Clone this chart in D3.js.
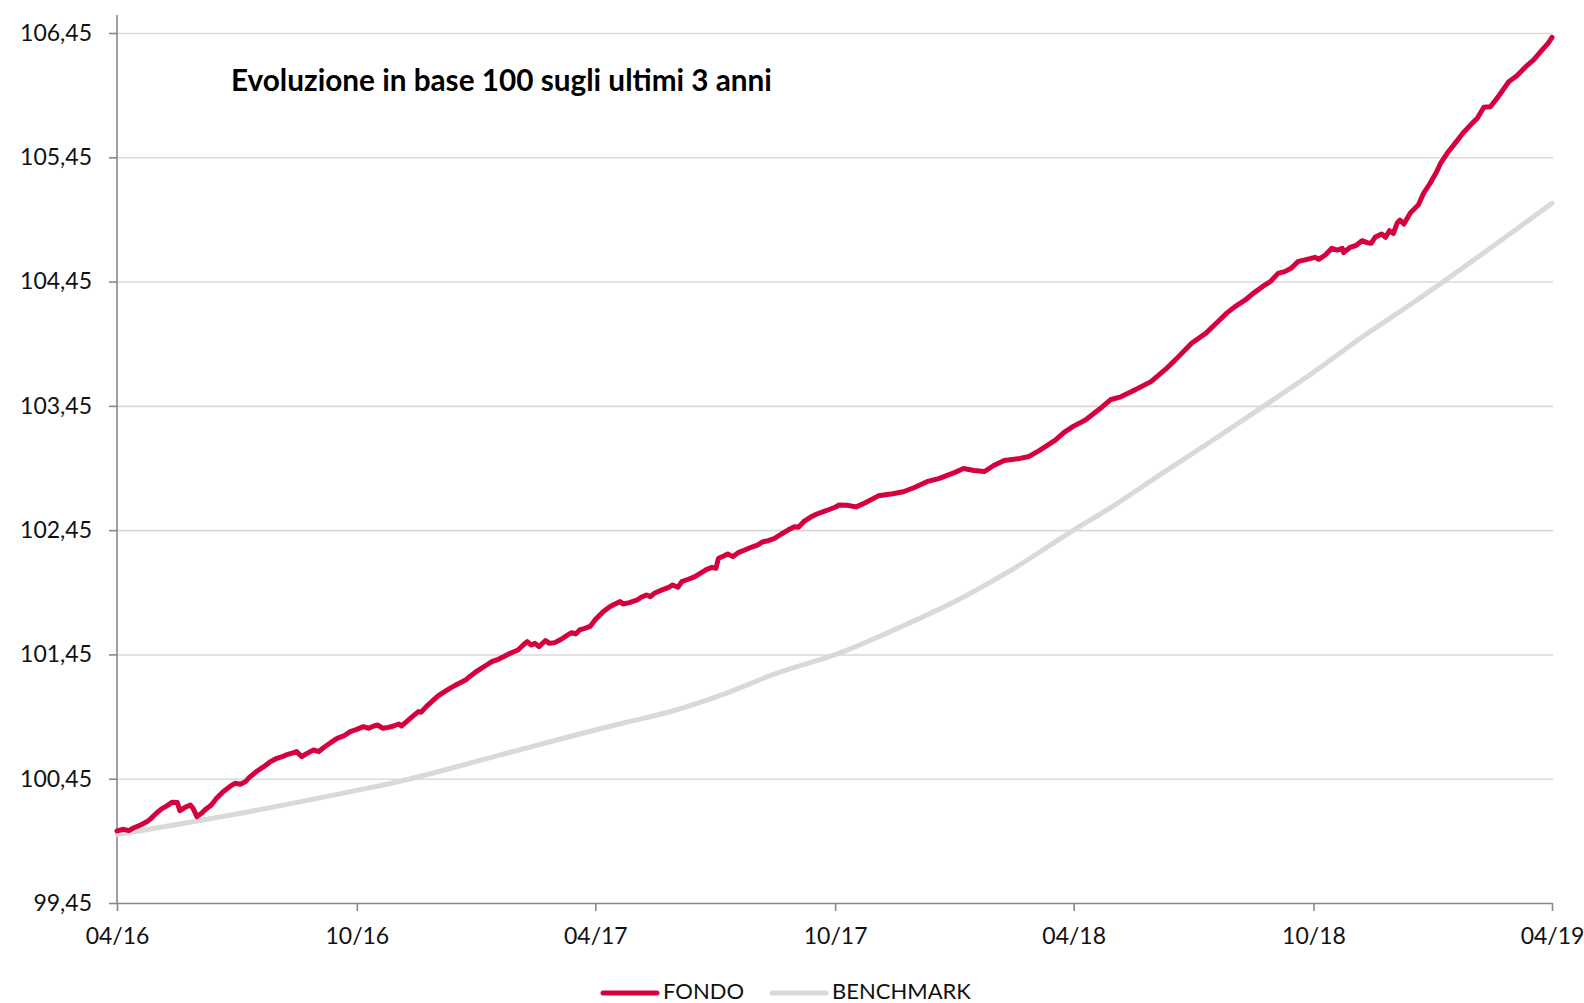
<!DOCTYPE html>
<html><head><meta charset="utf-8">
<script src="https://cdn.jsdelivr.net/npm/d3@7"></script>
<style>
body{margin:0;background:#fff;}
svg{display:block;font-family:Lato,"Open Sans",sans-serif;}
</style>
</head><body>
<svg id="c" width="1584" height="1003"></svg>
<script>
const titleText = "Evoluzione in base 100 sugli ultimi 3 anni";
const seriesNames = ["FONDO", "BENCHMARK"];
const yTicks = [99.45, 100.45, 101.45, 102.45, 103.45, 104.45, 105.45, 106.45];
const xTickDates = ["2016-04-01","2016-10-01","2017-04-01","2017-10-01","2018-04-01","2018-10-01","2019-04-01"];
const xTickLabels = ["04/16","10/16","04/17","10/17","04/18","10/18","04/19"];

const fondo = [
["2016-04-01",100.03],["2016-04-06",100.043],["2016-04-10",100.032],["2016-04-13",100.051],
["2016-04-19",100.078],["2016-04-24",100.105],["2016-04-27",100.131],["2016-05-01",100.172],
["2016-05-05",100.207],["2016-05-09",100.231],["2016-05-13",100.260],["2016-05-17",100.258],
["2016-05-19",100.193],["2016-05-23",100.220],["2016-05-27",100.239],["2016-05-29",100.212],
["2016-06-01",100.145],["2016-06-05",100.177],["2016-06-08",100.207],["2016-06-12",100.239],
["2016-06-16",100.293],["2016-06-21",100.346],["2016-06-26",100.386],["2016-06-30",100.413],
["2016-07-04",100.405],["2016-07-08",100.426],["2016-07-11",100.461],["2016-07-17",100.512],
["2016-07-22",100.547],["2016-07-27",100.587],["2016-08-01",100.614],["2016-08-05",100.627],
["2016-08-08",100.641],["2016-08-14",100.660],["2016-08-16",100.668],["2016-08-20",100.627],
["2016-08-24",100.654],["2016-08-29",100.681],["2016-09-02",100.668],["2016-09-05",100.695],
["2016-09-11",100.740],["2016-09-16",100.775],["2016-09-21",100.794],["2016-09-26",100.829],
["2016-10-01",100.847],["2016-10-06",100.869],["2016-10-10",100.856],["2016-10-14",100.874],
["2016-10-17",100.882],["2016-10-21",100.856],["2016-10-25",100.863],["2016-10-29",100.874],
["2016-11-02",100.890],["2016-11-04",100.874],["2016-11-08",100.909],["2016-11-13",100.955],
["2016-11-17",100.990],["2016-11-19",100.985],["2016-11-23",101.030],["2016-11-28",101.078],
["2016-12-02",101.116],["2016-12-07",101.150],["2016-12-12",101.183],["2016-12-17",101.212],
["2016-12-23",101.244],["2016-12-26",101.271],["2016-12-30",101.303],["2017-01-04",101.338],
["2017-01-08",101.365],["2017-01-12",101.392],["2017-01-17",101.411],["2017-01-22",101.438],
["2017-01-27",101.464],["2017-02-01",101.486],["2017-02-05",101.526],["2017-02-08",101.553],
["2017-02-11",101.526],["2017-02-14",101.539],["2017-02-17",101.513],["2017-02-22",101.561],
["2017-02-25",101.539],["2017-03-01",101.545],["2017-03-06",101.572],["2017-03-11",101.607],
["2017-03-14",101.625],["2017-03-17",101.615],["2017-03-20",101.647],["2017-03-24",101.660],
["2017-03-28",101.675],["2017-04-01",101.730],["2017-04-07",101.794],["2017-04-12",101.834],
["2017-04-16",101.856],["2017-04-20",101.875],["2017-04-22",101.856],["2017-04-27",101.867],
["2017-05-03",101.888],["2017-05-06",101.910],["2017-05-10",101.928],["2017-05-13",101.915],
["2017-05-16",101.942],["2017-05-22",101.969],["2017-05-27",101.990],["2017-05-30",102.009],
["2017-06-03",101.990],["2017-06-06",102.036],["2017-06-11",102.055],["2017-06-16",102.076],
["2017-06-20",102.103],["2017-06-25",102.135],["2017-06-29",102.151],["2017-07-02",102.143],
["2017-07-04",102.224],["2017-07-08",102.242],["2017-07-11",102.258],["2017-07-15",102.237],
["2017-07-19",102.269],["2017-07-24",102.290],["2017-07-29",102.312],["2017-08-03",102.331],
["2017-08-07",102.357],["2017-08-11",102.365],["2017-08-16",102.385],["2017-08-21",102.419],
["2017-08-26",102.451],["2017-08-31",102.478],["2017-09-03",102.473],["2017-09-07",102.518],
["2017-09-12",102.553],["2017-09-17",102.580],["2017-09-22",102.599],["2017-09-27",102.618],
["2017-10-01",102.634],["2017-10-04",102.652],["2017-10-10",102.650],["2017-10-17",102.637],
["2017-10-24",102.670],["2017-11-03",102.726],["2017-11-14",102.743],["2017-11-22",102.759],
["2017-11-30",102.791],["2017-12-10",102.840],["2017-12-19",102.865],["2017-12-31",102.913],
["2018-01-07",102.946],["2018-01-15",102.930],["2018-01-23",102.922],["2018-01-30",102.970],
["2018-02-07",103.011],["2018-02-19",103.027],["2018-02-26",103.043],["2018-03-06",103.092],
["2018-03-18",103.174],["2018-03-25",103.239],["2018-04-01",103.287],["2018-04-10",103.336],
["2018-04-21",103.426],["2018-04-29",103.499],["2018-05-07",103.523],["2018-05-18",103.580],
["2018-05-30",103.645],["2018-06-10",103.743],["2018-06-18",103.824],["2018-06-30",103.954],
["2018-07-11",104.035],["2018-07-19",104.117],["2018-07-27",104.198],["2018-08-03",104.255],
["2018-08-10",104.302],["2018-08-16",104.355],["2018-08-23",104.409],["2018-08-29",104.449],
["2018-09-04",104.516],["2018-09-09",104.530],["2018-09-14",104.557],["2018-09-19",104.610],
["2018-09-26",104.629],["2018-10-02",104.645],["2018-10-05",104.629],["2018-10-10",104.664],
["2018-10-15",104.718],["2018-10-19",104.704],["2018-10-23",104.718],["2018-10-24",104.683],
["2018-10-29",104.726],["2018-11-03",104.744],["2018-11-07",104.779],["2018-11-11",104.763],
["2018-11-14",104.758],["2018-11-17",104.806],["2018-11-22",104.833],["2018-11-25",104.806],
["2018-11-28",104.859],["2018-12-01",104.838],["2018-12-04",104.924],["2018-12-06",104.945],
["2018-12-09",104.913],["2018-12-14",105.004],["2018-12-20",105.066],["2018-12-24",105.160],
["2018-12-29",105.241],["2019-01-03",105.334],["2019-01-06",105.402],["2019-01-11",105.482],
["2019-01-17",105.562],["2019-01-23",105.643],["2019-01-30",105.723],["2019-02-03",105.764],
["2019-02-08",105.852],["2019-02-13",105.857],["2019-02-19",105.938],["2019-02-27",106.058],
["2019-03-05",106.104],["2019-03-12",106.179],["2019-03-18",106.233],["2019-03-24",106.308],
["2019-03-29",106.367],["2019-04-01",106.415]
];

const benchmark = [
["2016-04-01",100.00],["2016-07-01",100.166],["2016-10-01",100.356],["2016-11-03",100.430],
["2017-01-18",100.640],["2017-04-04",100.850],["2017-04-25",100.905],["2017-05-30",100.995],
["2017-07-08",101.130],["2017-08-14",101.285],["2017-10-04",101.460],["2017-11-26",101.700],
["2018-01-03",101.890],["2018-02-11",102.120],["2018-04-01",102.450],["2018-04-29",102.630],
["2018-06-06",102.897],["2018-07-15",103.165],["2018-08-23",103.440],["2018-10-01",103.720],
["2018-11-08",104.010],["2018-12-19",104.302],["2019-04-01",105.080]
];

(function () {
const parse = d3.timeParse("%Y-%m-%d");
const svg = d3.select("#c");
const pL = 117, pR = 1552, pT = 33, pB = 903;

const x = d3.scaleTime()
  .domain([parse(xTickDates[0]), parse(xTickDates[xTickDates.length-1])])
  .range([pL, pR]);
const y = d3.scaleLinear()
  .domain([yTicks[0], yTicks[yTicks.length-1]])
  .range([pB, pT]);

const locale = d3.formatLocale({decimal: ",", thousands: ".", grouping: [3], currency: ["", "€"]});
const fmt = locale.format(".2f");
const labelFont = "Lato, 'Open Sans', sans-serif";

// gridlines
svg.append("g")
  .attr("transform", `translate(${pL},0)`)
  .call(d3.axisLeft(y).tickValues(yTicks.slice(1)).tickSize(-(pR - pL + 1)).tickFormat(""))
  .call(g => g.select(".domain").remove())
  .call(g => g.selectAll("line").attr("stroke", "#d9d9d9").attr("stroke-width", 1.6));

// y axis
const yAxis = svg.append("g")
  .attr("transform", `translate(${pL},0)`)
  .call(d3.axisLeft(y).tickValues(yTicks).tickSize(8).tickPadding(17).tickFormat(fmt));
yAxis.select(".domain").remove();
yAxis.append("line").attr("x1", 0).attr("x2", 0).attr("y1", pT - 18).attr("y2", pB)
  .attr("stroke", "#888").attr("stroke-width", 1.6);
yAxis.selectAll(".tick line").attr("stroke", "#888").attr("stroke-width", 1.6);
yAxis.selectAll("text").attr("font-size", 23).attr("fill", "#111").attr("font-family", labelFont);

// x axis
const xAxis = svg.append("g")
  .attr("transform", `translate(0,${pB})`)
  .call(d3.axisBottom(x).tickValues(xTickDates.map(parse)).tickSize(8).tickPadding(17)
    .tickFormat((d, i) => xTickLabels[i]).tickSizeOuter(0));
xAxis.select(".domain").attr("stroke", "#888").attr("stroke-width", 1.6);
xAxis.selectAll(".tick line").attr("stroke", "#888").attr("stroke-width", 1.6);
xAxis.selectAll("text").attr("font-size", 23).attr("fill", "#111").attr("font-family", labelFont);

const line = d3.line().x(d => x(parse(d[0]))).y(d => y(d[1]));

svg.append("path").datum(benchmark)
  .attr("d", line.curve(d3.curveMonotoneX))
  .attr("fill", "none").attr("stroke", "#d9d9d9").attr("stroke-width", 5)
  .attr("stroke-linecap", "round").attr("stroke-linejoin", "round");

svg.append("path").datum(fondo)
  .attr("d", line.curve(d3.curveLinear))
  .attr("fill", "none").attr("stroke", "#d6003f").attr("stroke-width", 5)
  .attr("stroke-linecap", "round").attr("stroke-linejoin", "round");

// title
const title = svg.append("text").attr("x", 231).attr("y", 91)
  .attr("font-weight", "bold").attr("font-size", 26).attr("fill", "#000")
  .text(titleText);
const tw = title.node().getComputedTextLength();
if (tw > 0) title.attr("font-size", 26 * 541 / tw);

// legend
const legColors = ["#d6003f", "#d9d9d9"];
const legX = [603, 772];
seriesNames.forEach((n, i) => {
  svg.append("line").attr("x1", legX[i]).attr("x2", legX[i] + 54)
    .attr("y1", 993).attr("y2", 993)
    .attr("stroke", legColors[i]).attr("stroke-width", 5).attr("stroke-linecap", "round");
  svg.append("text").attr("x", legX[i] + 60).attr("y", 999)
    .attr("font-size", 22).attr("fill", "#111").attr("font-family", labelFont).text(n);
});
})();
</script>
</body></html>
